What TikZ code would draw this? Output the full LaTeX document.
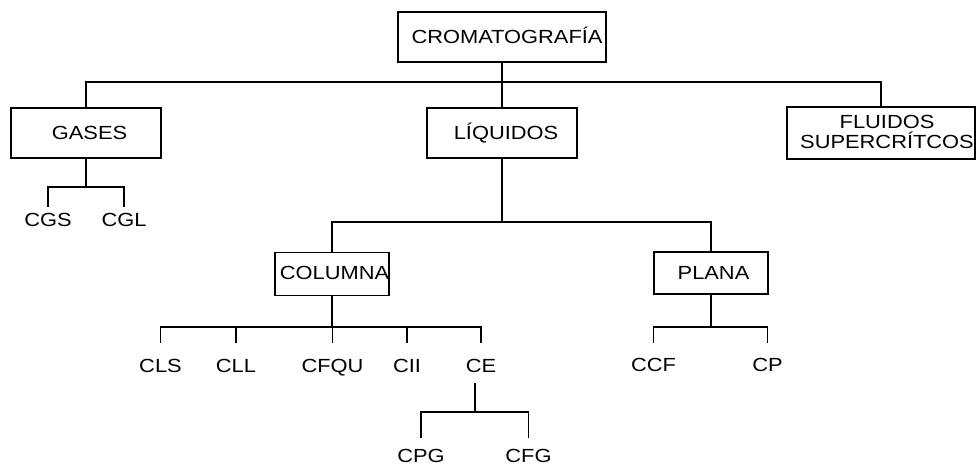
\documentclass[tikz,border=0pt]{standalone}
\usepackage{fontspec}
\setmainfont{Liberation Sans}[FakeStretch=1.15]
\begin{document}
\begin{tikzpicture}[x=1pt,y=-1pt,
  box/.style={draw, line width=1.7pt, inner sep=0pt, minimum width=#1},
  txt/.style={inner sep=0pt, text height=13.6pt, text depth=0pt, font=\fontsize{19}{20}\selectfont},
  conn/.style={line width=1.7pt}]
\useasboundingbox (0,0) rectangle (976,466);
% boxes
\node[box=208pt, minimum height=50pt] (crom) at (502,37) {};
\node[box=150pt, minimum height=50pt] (gases) at (86,133) {};
\node[box=150pt, minimum height=50pt] (liq) at (502,133) {};
\node[box=188pt, minimum height=52pt] (fluid) at (881,133) {};
\node[box=114pt, minimum height=43pt] (col) at (332,274) {};
\node[box=114pt, minimum height=42pt] (plana) at (711,273) {};
% box texts
\node[txt] (tcrom) at (507,37) {CROMATOGRAFÍA};
\node[txt] (tgases) at (89.5,133) {GASES};
\node[txt] (tliq) at (506,132.5) {LÍQUIDOS};
\node[inner sep=0pt, font=\fontsize{19}{20}\selectfont, align=center, anchor=base] (tfluid) at (887,148.5) {FLUIDOS\\SUPERCRÍTCOS};
\node[txt] (tcol) at (334.5,273) {COLUMNA};
\node[txt] (tplana) at (713.5,273) {PLANA};
% leaves
\node[txt] (cgs) at (48,220) {CGS};
\node[txt] (cgl) at (124,220) {CGL};
\node[txt] (cls) at (160.5,366) {CLS};
\node[txt] (cll) at (236,366) {CLL};
\node[txt] (cfqu) at (332.5,366) {CFQU};
\node[txt] (cii) at (407,366) {CII};
\node[txt] (ce) at (481,366) {CE};
\node[txt] (ccf) at (653.5,365) {CCF};
\node[txt] (cp) at (767.5,365) {CP};
\node[txt] (cpg) at (421,456) {CPG};
\node[txt] (cfg) at (528.5,456) {CFG};
% bus coordinates
\coordinate (b1) at (502,82);
\coordinate (b2) at (502,222);
\coordinate (bg) at (86,187);
\coordinate (bc) at (332,327);
\coordinate (bp) at (711,327);
\coordinate (be) at (475,412);
% connectors
\draw[conn] (crom.south) -- (liq.north);
\draw[conn] (gases.north) |- (b1) -| (fluid.north);
\draw[conn] (liq.south) -- (b2);
\draw[conn] (col.north) |- (b2) -| (plana.north);
% gases children
\draw[conn] (gases.south) -- (bg);
\draw[conn] ([yshift=6pt]cgs.north) -- (cgs.north |- bg) -- (cgl.north |- bg) -- ([yshift=6pt]cgl.north);
% columna children
\draw[conn] (col.south) -- (bc);
\draw[conn] ([yshift=16pt]cls.north) -- (cls.north |- bc) -- (ce.north |- bc) -- ([yshift=16pt]ce.north);
\draw[conn] ([yshift=16pt]cll.north) -- (cll.north |- bc);
\draw[conn] ([yshift=16pt]cii.north) -- (cii.north |- bc);
\draw[conn] ([yshift=16pt]cfqu.north) -- (cfqu.north |- bc);
% plana children
\draw[conn] (plana.south) -- (bp);
\draw[conn] ([yshift=15pt]ccf.north) -- (ccf.north |- bp) -- (cp.north |- bp) -- ([yshift=15pt]cp.north);
% CE children
\draw[conn] ([xshift=-6pt,yshift=-10pt]ce.south) -- (be);
\draw[conn] ([yshift=11pt]cpg.north) -- (cpg.north |- be) -- (cfg.north |- be) -- ([yshift=11pt]cfg.north);
\end{tikzpicture}
\end{document}
